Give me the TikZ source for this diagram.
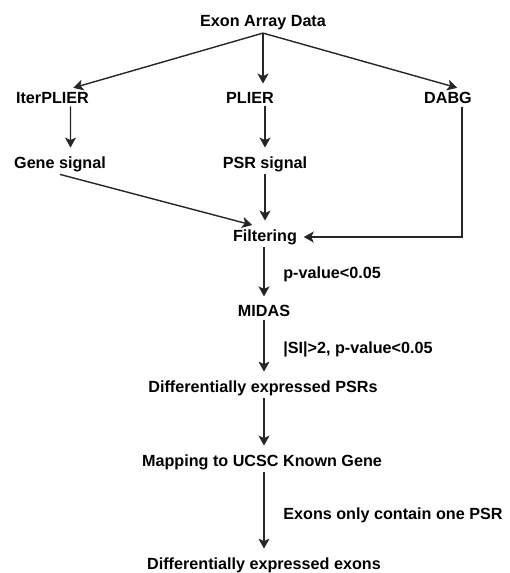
\documentclass[tikz,border=0pt]{standalone}
\usepackage{fontspec}
\setmainfont{Liberation Sans}
\usepackage{tikz}
\usetikzlibrary{arrows.meta}

\begin{document}
\begin{tikzpicture}[
    stage/.style = {
        inner sep=0.05cm, font=\bfseries\fontsize{9.2}{11}\selectfont
    },
    cond/.style = {
        inner sep=0pt, anchor=west, font=\bfseries\fontsize{9.2}{11}\selectfont
    },
    arr/.style = {
        -{Stealth[length=0.2cm, width=0.22cm, inset=0.05cm]},
        line width=0.8pt, shorten >=0.12cm, color=black!85
    }
]
\useasboundingbox (0,0) rectangle (10.2,-11.46);

%% ---- INPUT AND METHODS ----
\node[stage] (exon)  at (5.26, -0.46) {Exon Array Data};
\node[stage] (iter)  at (1.05, -1.96) {IterPLIER};
\node[stage] (plier) at (5.00, -1.96) {PLIER};
\node[stage] (dabg)  at (8.96, -1.96) {DABG};

%% ---- SIGNALS ----
\node[stage] (gene) at (1.20, -3.28) {Gene signal};
\node[stage] (psr)  at (5.30, -3.28) {PSR signal};

%% ---- PIPELINE ----
\node[stage] (filt)     at (5.30, -4.74)  {Filtering};
\node[stage] (midas)    at (5.28, -6.22)  {MIDAS};
\node[stage] (diffpsr)  at (5.26, -7.76)  {Differentially expressed PSRs};
\node[stage] (mapping)  at (5.24, -9.24)  {Mapping to UCSC Known Gene};
\node[stage] (diffexon) at (5.28, -11.30) {Differentially expressed exons};

%% ---- CONDITIONS ----
\node[cond] (pval)   at (5.66, -5.48)  {p-value<0.05};
\node[cond] (sipv)   at (5.66, -6.98)  {|SI|>2, p-value<0.05};
\node[cond] (onepsr) at (5.66, -10.30) {Exons only contain one PSR};

%% ---- ARROWS ----
\draw[arr] (exon.south) -- ([xshift=0.3cm]iter.north);
\draw[arr] (exon.south) -- (exon.south |- plier.north);
\draw[arr] (exon.south) -- ([xshift=0.3cm]dabg.north);

\draw[arr] ([xshift=0.36cm]iter.south) -- ([xshift=0.21cm]gene.north);
\draw[arr] (psr.north |- plier.south) -- (psr.north);

\draw[arr] (gene.south) -- ([xshift=-0.14cm]filt.north);
\draw[arr] (psr.south)  -- (filt.north);
\draw[arr, shorten >=0.08cm] ([xshift=0.28cm]dabg.south) |- (filt.east);

\draw[arr] (filt.south -| midas.north) -- (midas.north);
\draw[arr] (midas.south)   -- (midas.south |- diffpsr.north);
\draw[arr] (diffpsr.south -| midas.south) -- (midas.south |- mapping.north);
\draw[arr] (mapping.south -| midas.south) -- (midas.south |- diffexon.north);

\end{tikzpicture}
\end{document}
